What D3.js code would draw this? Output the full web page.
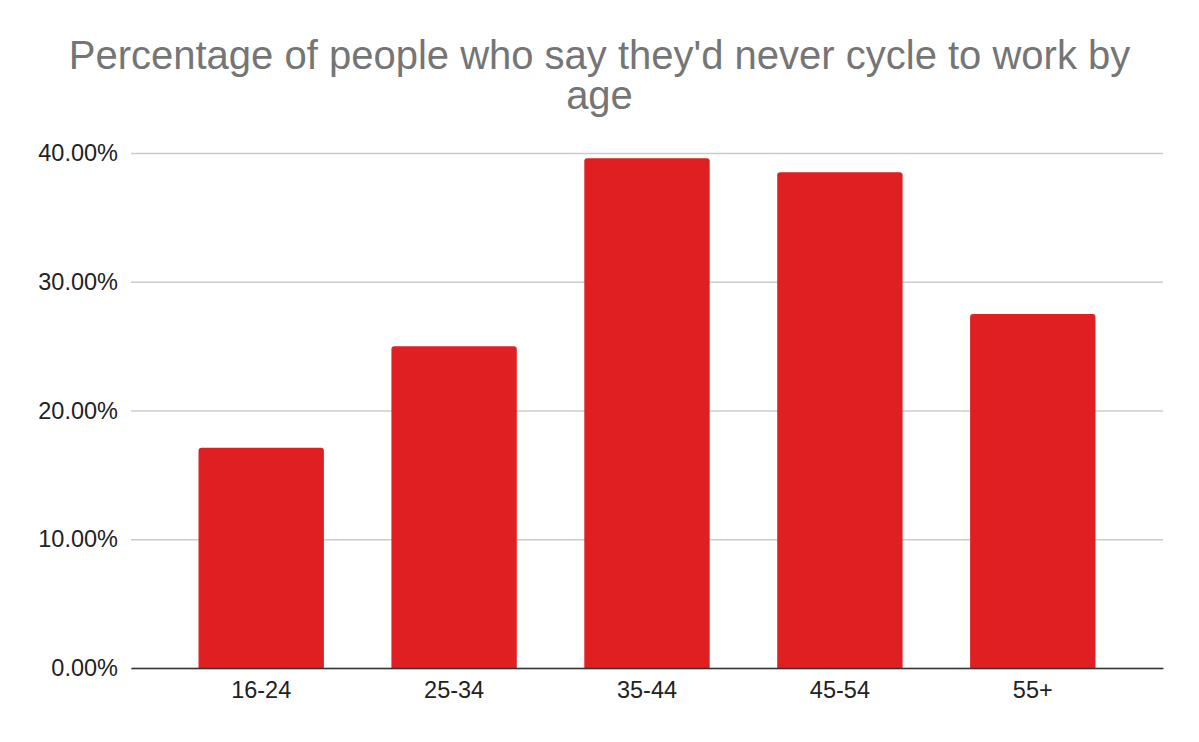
<!DOCTYPE html>
<html>
<head>
<meta charset="utf-8">
<script src="https://cdn.jsdelivr.net/npm/d3@7"></script>
<style>
	body { margin: 0; background: #fff; }
	text { font-family: "Liberation Sans", Arial, sans-serif; }
</style>
</head>
<body>
<div id="chart"></div>
<script>
const width = 1199;
const height = 742;

// data
const ageGroups = ["16-24", "25-34", "35-44", "45-54", "55+"];
const neverCycle = [0.171, 0.25, 0.396, 0.385, 0.275];
const yTicks = [0, 0.1, 0.2, 0.3, 0.4];
const titleLines = ["Percentage of people who say they'd never cycle to work by", "age"];

const margin = { top: 153, right: 36, bottom: 74, left: 131 };

const svg = d3
	.select("#chart")
	.append("svg")
	.attr("width", width)
	.attr("height", height);

// title
svg.append("text")
	.attr("x", width / 2)
	.attr("y", 69)
	.attr("text-anchor", "middle")
	.attr("fill", "#757575")
	.style("font-size", "40px")
	.selectAll("tspan")
	.data(titleLines)
	.enter()
	.append("tspan")
	.attr("x", width / 2)
	.attr("dy", (d, i) => (i === 0 ? 0 : 39.5))
	.text(d => d);

const x = d3
	.scaleBand()
	.domain(ageGroups)
	.range([margin.left, width - margin.right])
	.paddingInner(0.35)
	.paddingOuter(0.35);

const y = d3
	.scaleLinear()
	.domain([0, 0.4])
	.range([height - margin.bottom, margin.top]);

// gridlines
const yAxis = d3
	.axisLeft(y)
	.tickValues(yTicks)
	.tickFormat(d3.format(".2%"))
	.tickSize(-(width - margin.left - margin.right))
	.tickPadding(13);

const yG = svg.append("g")
	.attr("transform", `translate(${margin.left},0)`)
	.call(yAxis);
yG.select(".domain").remove();
yG.selectAll(".tick line").attr("stroke", "#cccccc").attr("stroke-width", 1.5);
yG.selectAll(".tick text")
	.attr("fill", "#222")
	.style("font-size", "23.5px");

// bars with slightly rounded tops
const r = 3;
svg.append("g")
	.selectAll("path")
	.data(ageGroups)
	.enter()
	.append("path")
	.attr("fill", "#e01f22")
	.attr("d", (d, i) => {
		const x0 = x(d), x1 = x(d) + x.bandwidth();
		const y0 = y(0), y1 = y(neverCycle[i]);
		return `M${x0},${y0}V${y1 + r}Q${x0},${y1} ${x0 + r},${y1}H${x1 - r}Q${x1},${y1} ${x1},${y1 + r}V${y0}Z`;
	});

// x axis
const xG = svg.append("g")
	.attr("transform", `translate(0,${y(0)})`)
	.call(d3.axisBottom(x).tickSize(0).tickPadding(13));
xG.select(".domain").attr("stroke", "#333").attr("stroke-width", 1.5);
xG.selectAll(".tick text")
	.attr("fill", "#222")
	.style("font-size", "23.5px");
</script>
</body>
</html>
